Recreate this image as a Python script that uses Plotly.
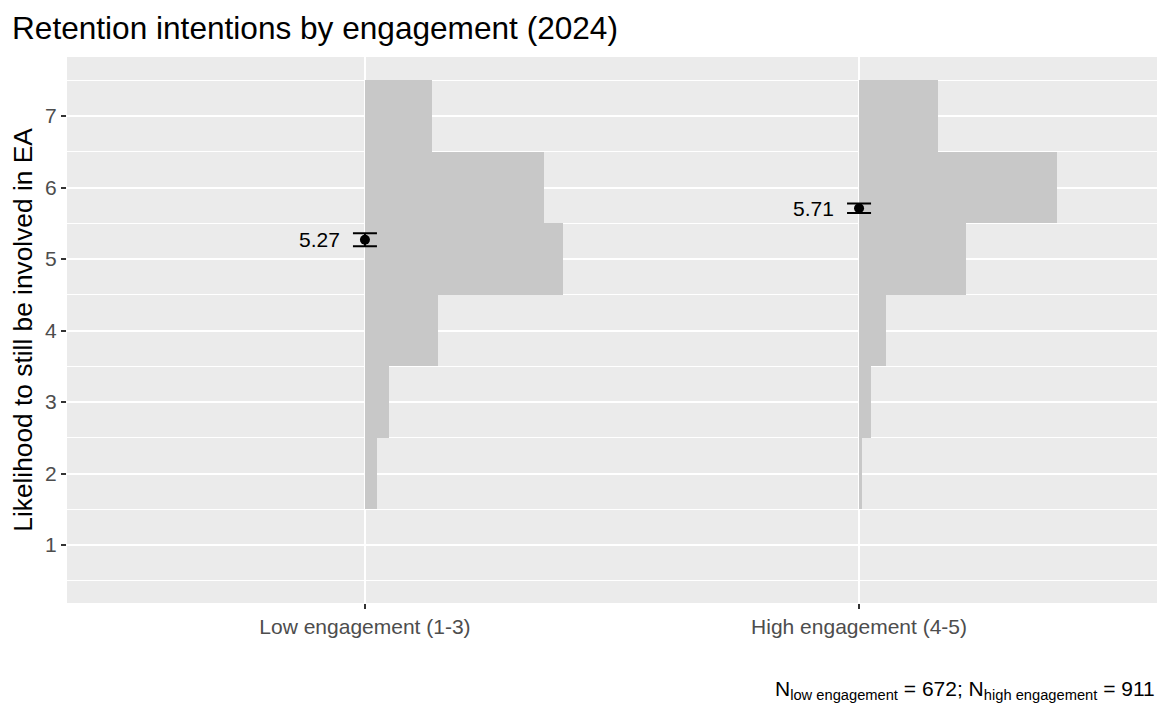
import plotly.graph_objects as go

categories = ["Low engagement (1-3)", "High engagement (4-5)"]
cat_pos = [1, 2]
scale_points = [2, 3, 4, 5, 6, 7]
counts_low = [15, 29, 89, 240, 218, 81]
counts_high = [6, 26, 58, 229, 423, 169]
means = [5.27, 5.71]
ci_half = [0.09, 0.068]
mean_labels = ["5.27", "5.71"]
n_low, n_high = 672, 911

HIST_MAX = 0.4
fig = go.Figure()
for pos, counts in zip(cat_pos, [counts_low, counts_high]):
    m = max(counts)
    widths = [c / m * HIST_MAX for c in counts]
    fig.add_trace(go.Bar(
        y=scale_points, x=widths, base=pos, orientation="h", width=1,
        marker=dict(color="#C8C8C8", line=dict(width=0)), showlegend=False,
        hoverinfo="skip"))

fig.add_trace(go.Scatter(
    x=cat_pos, y=means, mode="markers",
    marker=dict(color="black", size=10),
    error_y=dict(type="data", array=ci_half, symmetric=True, color="black",
                 thickness=2, width=12),
    showlegend=False))

for pos, m, lab in zip(cat_pos, means, mean_labels):
    fig.add_annotation(x=pos, y=m, text=lab, showarrow=False, xanchor="right",
                       xshift=-23, font=dict(size=21, color="black"))

fig.add_annotation(
    x=1, y=-0.16, xref="paper", yref="paper", xanchor="right", yanchor="middle",
    showarrow=False, font=dict(size=21, color="black"),
    text=f"N<sub>low engagement</sub> = {n_low}; N<sub>high engagement</sub> = {n_high}")

fig.update_layout(
    width=1162, height=712,
    margin=dict(l=59, r=13, t=49, b=117),
    paper_bgcolor="white", plot_bgcolor="#EBEBEB",
    font=dict(family="Liberation Sans, Arial, sans-serif", color="#4D4D4D"),
    title=dict(text="Retention intentions by engagement (2024)", x=4 / 1162, xanchor="left",
               xref="container", y=1 - 20 / 712, yanchor="middle",
               font=dict(size=31.6, color="black")),
    bargap=0, barmode="overlay",
    xaxis=dict(range=[0.397, 2.603], tickvals=cat_pos, ticktext=categories,
               showgrid=True, gridcolor="white", gridwidth=2, zeroline=False,
               ticks="outside", ticklen=5, tickwidth=1.5, tickcolor="#333333",
               tickfont=dict(size=21, color="#4D4D4D"), showline=False, fixedrange=True,
               automargin=False),
    yaxis=dict(range=[0.19, 7.825], tickvals=[1, 2, 3, 4, 5, 6, 7],
               showgrid=True, gridcolor="white", gridwidth=2, zeroline=False,
               minor=dict(tickvals=[0.5, 1.5, 2.5, 3.5, 4.5, 5.5, 6.5, 7.5],
                          showgrid=True, gridcolor="white", gridwidth=1, ticks=""),
               ticks="outside", ticklen=5, tickwidth=1.5, tickcolor="#333333",
               tickfont=dict(size=21, color="#4D4D4D"),
               title=dict(text="Likelihood to still be involved in EA",
                          font=dict(size=26.3, color="black"), standoff=8),
               showline=False, automargin=False),
)

fig.write_html("out.html")
